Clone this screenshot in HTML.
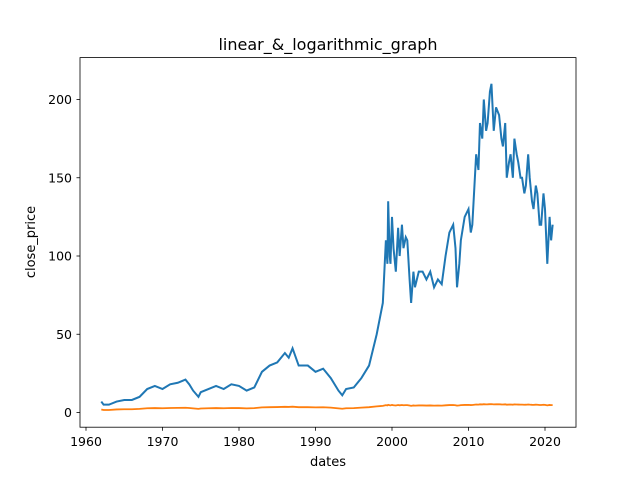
<!DOCTYPE html>
<html><head><meta charset="utf-8"><style>
html,body{margin:0;padding:0;background:#fff;}
svg text{font-family:"DejaVu Sans","Liberation Sans",sans-serif;}
</style></head><body>
<svg id="chart" width="640" height="480">
<rect width="640" height="480" fill="#fff"></rect>
<text x="328" y="50" font-size="16" text-anchor="middle">linear_&amp;_logarithmic_graph</text>
<g id="plot"></g>
<rect x="80" y="57.6" width="496" height="369.6" fill="none" stroke="#000" stroke-width="0.8"></rect>
<text x="328" y="466" font-size="13" text-anchor="middle">dates</text>
<text x="0" y="0" font-size="13" text-anchor="middle" transform="translate(35,242) rotate(-90)">close_price</text>
</svg>
<script>
const years=[1962,1962.3,1963,1964,1965,1966,1967,1968,1969,1970,1971,1972,1973,1973.5,1974,1974.7,1975,1976,1977,1978,1979,1980,1981,1982,1983,1984,1985,1986,1986.5,1987,1987.8,1988,1989,1990,1991,1992,1993,1993.5,1994,1995,1996,1997,1998,1998.8,1999.2,1999.4,1999.5,1999.7,1999.8,2000,2000.2,2000.5,2000.8,2001,2001.3,2001.5,2001.8,2002,2002.3,2002.5,2002.8,2003,2003.5,2004,2004.5,2005,2005.5,2006,2006.5,2007,2007.5,2008,2008.3,2008.5,2008.8,2009,2009.5,2010,2010.3,2010.5,2011,2011.3,2011.5,2011.8,2012,2012.3,2012.5,2012.8,2013,2013.3,2013.6,2014,2014.3,2014.5,2014.8,2015,2015.3,2015.5,2015.8,2016,2016.3,2016.5,2016.8,2017,2017.3,2017.5,2017.8,2018,2018.3,2018.5,2018.8,2019,2019.3,2019.5,2019.8,2020,2020.3,2020.6,2020.8,2021];
const closePrice=[7,5,5,7,8,8,10,15,17,15,18,19,21,18,14,10,13,15,17,15,18,17,14,16,26,30,32,38,35,41,30,30,30,26,28,22,14,11,15,16,22,30,50,70,110,95,135,100,95,125,105,90,118,100,120,105,112,110,85,70,90,80,90,90,85,90,80,85,82,100,115,120,105,80,95,110,125,130,115,120,165,155,185,175,200,180,185,205,210,180,195,190,175,170,185,150,160,165,150,175,165,160,150,150,140,145,165,150,135,130,145,140,120,120,140,130,95,125,110,120];
const xTicks=[1960,1970,1980,1990,2000,2010,2020];
const yTicks=[0,50,100,150,200];
const logPrice=closePrice.map(v=>Math.log(v));
const X=y=>86+(y-1960)*7.65;
const Y=v=>412.5-v*1.565;
const ns="http://www.w3.org/2000/svg";
const g=document.getElementById('plot');
function mk(t,a){const e=document.createElementNS(ns,t);for(const k in a)e.setAttribute(k,a[k]);g.appendChild(e);return e;}
xTicks.forEach(t=>{
 const l=mk('line',{x1:X(t),x2:X(t),y1:427.2,y2:430.7,stroke:'#000','stroke-width':0.8});
 
 
 const tx=mk('text',{x:X(t),y:446,'font-size':12.5,'text-anchor':'middle'});tx.textContent=t;
 
 
});
yTicks.forEach(t=>{
 const l=mk('line',{x1:76.5,x2:80,y1:Y(t),y2:Y(t),stroke:'#000','stroke-width':0.8});
 
 
 const tx=mk('text',{x:72,y:Y(t)+4.5,'font-size':12.5,'text-anchor':'end'});tx.textContent=t;
 
 
});
const p1=mk('polyline',{points:years.map((y,i)=>X(y)+','+Y(closePrice[i])).join(' '),fill:'none',stroke:'#1f77b4','stroke-width':2});


const p2=mk('polyline',{points:years.map((y,i)=>X(y)+','+Y(logPrice[i])).join(' '),fill:'none',stroke:'#ff7f0e','stroke-width':1.8});


</script>
</body></html>
